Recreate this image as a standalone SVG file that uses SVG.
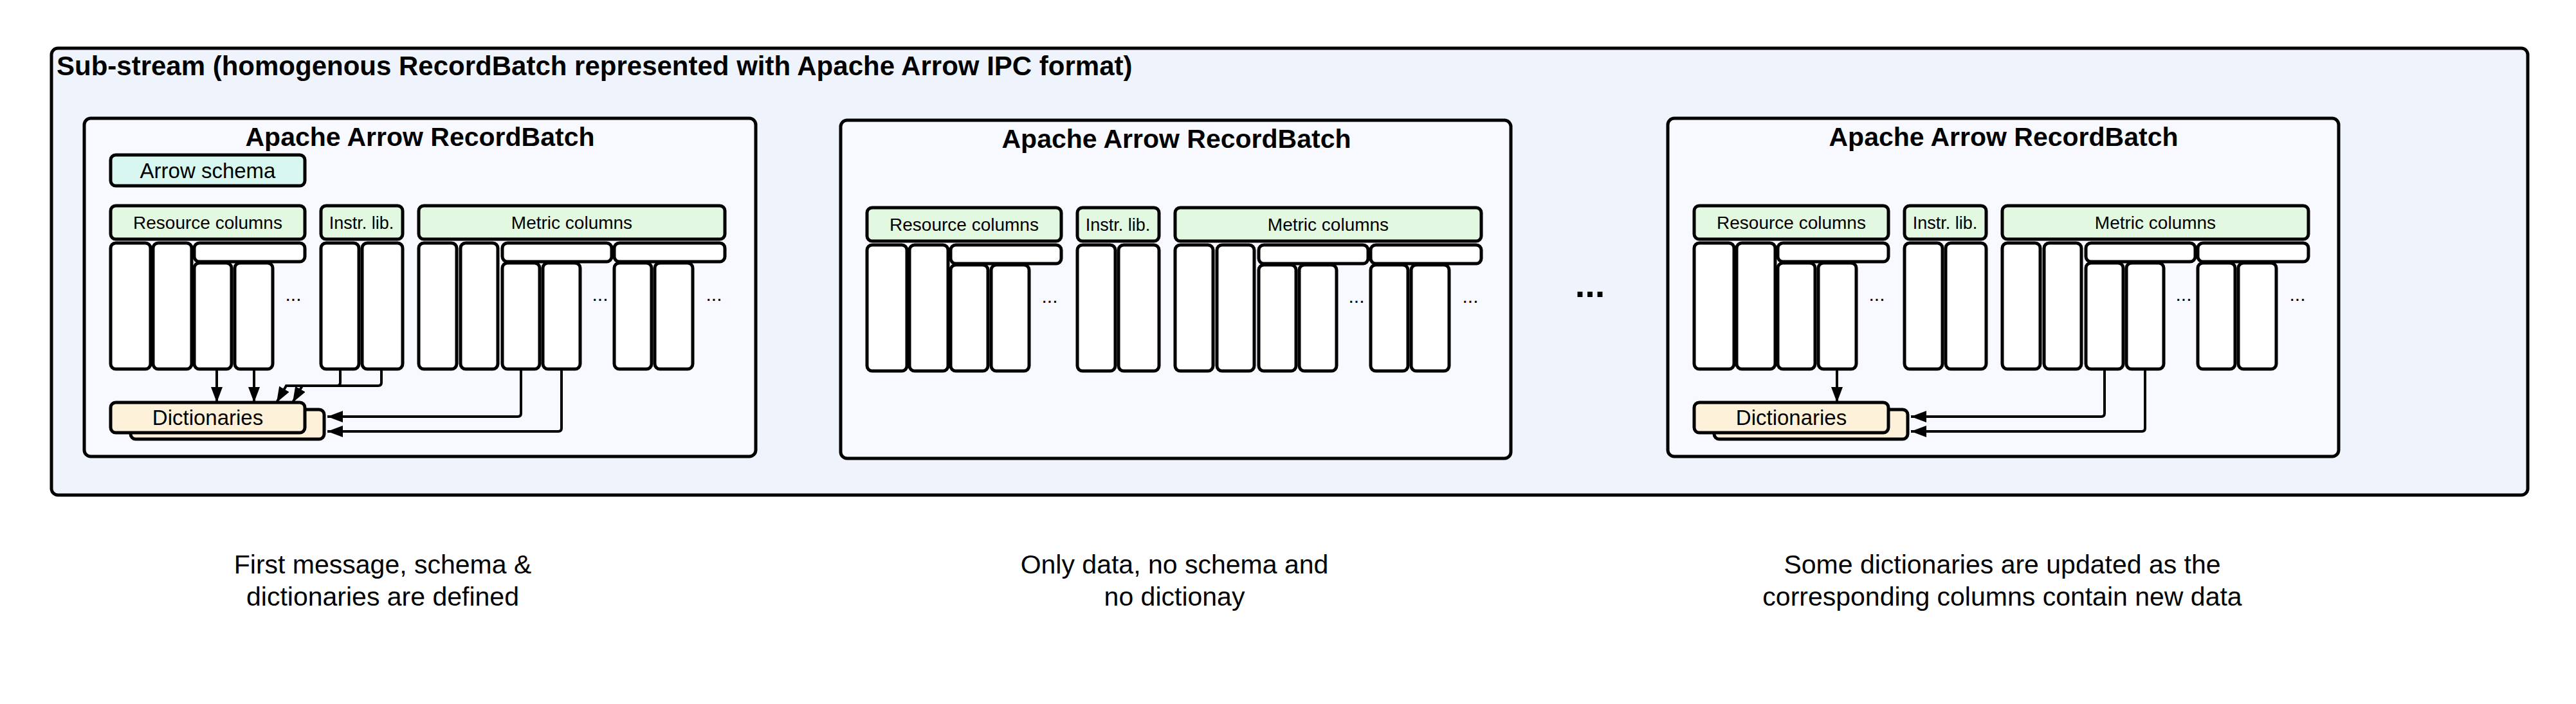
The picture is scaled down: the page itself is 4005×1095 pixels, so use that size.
<svg xmlns="http://www.w3.org/2000/svg" xmlns:xlink="http://www.w3.org/1999/xlink" width="4005" height="1095" viewBox="0 0 4005 1095">
<style>
.b{stroke:#000;stroke-width:5}
.col{fill:#fff;stroke:#000;stroke-width:5}
.hdr{fill:#e3f8e0;stroke:#000;stroke-width:5}
.t{font-family:"Liberation Sans",Arial,sans-serif;fill:#000}
.c{stroke:#000;stroke-width:4;fill:none}
</style>
<defs>
<marker id="ah" markerUnits="userSpaceOnUse" markerWidth="24" markerHeight="18" viewBox="0 0 24 18" refX="24" refY="9" orient="auto"><path d="M0,0 L24,9 L0,18 Z" fill="#000"/></marker>
<g id="cols">
<rect class="hdr" x="172" y="320" width="302" height="52" rx="8"/>
<text class="t" x="323" y="356" font-size="28" text-anchor="middle">Resource columns</text>
<rect class="hdr" x="499" y="320" width="127" height="52" rx="8"/>
<text class="t" x="562" y="356" font-size="27" text-anchor="middle">Instr. lib.</text>
<rect class="hdr" x="651" y="320" width="476" height="52" rx="8"/>
<text class="t" x="889" y="356" font-size="28" text-anchor="middle">Metric columns</text>
<rect class="col" x="172" y="378" width="62" height="196" rx="8"/>
<rect class="col" x="238" y="378" width="60" height="196" rx="8"/>
<rect class="col" x="302" y="378" width="172" height="29" rx="8"/>
<rect class="col" x="302" y="409" width="58" height="165" rx="8"/>
<rect class="col" x="365" y="409" width="59" height="165" rx="8"/>
<text class="t" x="456" y="468" font-size="30" text-anchor="middle">...</text>
<rect class="col" x="499" y="378" width="59" height="196" rx="8"/>
<rect class="col" x="563" y="378" width="63" height="196" rx="8"/>
<rect class="col" x="651" y="378" width="59" height="196" rx="8"/>
<rect class="col" x="716" y="378" width="58" height="196" rx="8"/>
<rect class="col" x="781" y="378" width="170" height="29" rx="8"/>
<rect class="col" x="955" y="378" width="172" height="29" rx="8"/>
<rect class="col" x="781" y="409" width="58" height="165" rx="8"/>
<rect class="col" x="844" y="409" width="58" height="165" rx="8"/>
<text class="t" x="933" y="468" font-size="30" text-anchor="middle">...</text>
<rect class="col" x="955" y="409" width="58" height="165" rx="8"/>
<rect class="col" x="1018" y="409" width="59" height="165" rx="8"/>
<text class="t" x="1110" y="468" font-size="30" text-anchor="middle">...</text>
</g>
<g id="dict">
<rect x="203" y="637" width="301" height="46" rx="8" fill="#fdf1d9" class="b"/>
<rect x="172" y="626" width="302" height="47" rx="8" fill="#fdf1d9" class="b"/>
<text class="t" x="323" y="661" font-size="33" text-anchor="middle">Dictionaries</text>
</g>
</defs>
<g id="substream">
<rect x="80" y="75" width="3850" height="695" rx="10" fill="#eff4fc" class="b"/>
<text class="t" x="88" y="117" font-size="42" font-weight="bold">Sub-stream (homogenous RecordBatch represented with Apache Arrow IPC format)</text>
</g>
<g id="batch1">
<rect x="131" y="184" width="1044" height="526" rx="10" fill="#f7f9fe" class="b"/>
<text class="t" x="653" y="227" font-size="41" font-weight="bold" text-anchor="middle">Apache Arrow RecordBatch</text>
<rect x="172" y="241" width="302" height="48" rx="8" fill="#d9f7f1" class="b"/>
<text class="t" x="323" y="277" font-size="33" text-anchor="middle">Arrow schema</text>
<use xlink:href="#cols"/>
<use xlink:href="#dict"/>
</g>
<g id="batch2" transform="translate(1176,3)">
<rect x="131" y="184" width="1042" height="526" rx="10" fill="#f7f9fe" class="b"/>
<text class="t" x="653" y="227" font-size="41" font-weight="bold" text-anchor="middle">Apache Arrow RecordBatch</text>
<use xlink:href="#cols"/>
</g>
<g id="ellipsis"><text class="t" x="2472" y="462" font-size="56" font-weight="bold" text-anchor="middle">...</text></g>
<g id="batch3" transform="translate(2462,0)">
<rect x="131" y="184" width="1043" height="526" rx="10" fill="#f7f9fe" class="b"/>
<text class="t" x="653" y="227" font-size="41" font-weight="bold" text-anchor="middle">Apache Arrow RecordBatch</text>
<use xlink:href="#cols"/>
<use xlink:href="#dict"/>
</g>
<g id="connectors">
<path class="c" marker-end="url(#ah)" d="M337,574 V626"/>
<path class="c" marker-end="url(#ah)" d="M395,574 V626"/>
<path class="c" marker-end="url(#ah)" d="M529,574 V595 Q529,600 524,600 H445 L430,626"/>
<path class="c" marker-end="url(#ah)" d="M593,574 V595 Q593,600 588,600 H470 L455,626"/>
<path class="c" marker-end="url(#ah)" d="M810,574 V643 Q810,648 805,648 H509"/>
<path class="c" marker-end="url(#ah)" d="M873,574 V666 Q873,671 868,671 H509"/>
<path class="c" marker-end="url(#ah)" d="M2856,574 V626"/>
<path class="c" marker-end="url(#ah)" d="M3272,574 V643 Q3272,648 3267,648 H2971"/>
<path class="c" marker-end="url(#ah)" d="M3335,574 V666 Q3335,671 3330,671 H2971"/>
</g>
<g id="captions" class="t" font-size="41" text-anchor="middle">
<text x="595" y="892">First message, schema &amp;</text>
<text x="595" y="942">dictionaries are defined</text>
<text x="1826" y="892">Only data, no schema and</text>
<text x="1826" y="942">no dictionay</text>
<text x="3113" y="892">Some dictionaries are updated as the</text>
<text x="3113" y="942">corresponding columns contain new data</text>
</g>
</svg>
